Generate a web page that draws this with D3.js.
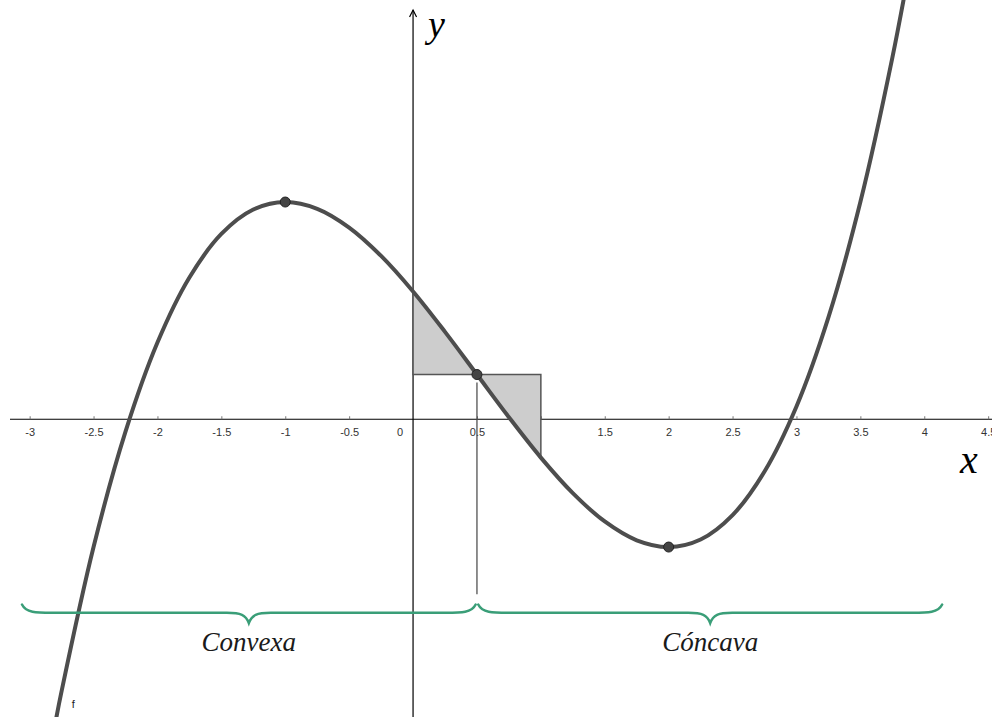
<!DOCTYPE html>
<html>
<head>
<meta charset="utf-8">
<script src="https://cdn.jsdelivr.net/npm/d3@7"></script>
<style>
  body { margin: 0; background: #fff; }
  svg { display: block; }
</style>
</head>
<body>
<svg></svg>
<script>
// curve samples (f with max at -1, min at 2)
var curveX = [-2.8, -2.75, -2.5, -2.25, -2, -1.75, -1.5, -1.25, -1, -0.75, -0.5, -0.25, 0,
              0.25, 0.5, 0.75, 1, 1.25, 1.5, 1.75, 2, 2.25, 2.5, 2.75, 3, 3.25, 3.5, 3.75, 3.9]
var curveY = [-23.82, -21.28, -10, -0.97, 6, 11.09, 14.5, 16.41, 17, 16.47, 15, 12.78, 10,
              6.84, 3.5, 0.16, -3, -5.78, -8, -9.47, -10, -9.41, -7.5, -4.09, 1, 7.97, 17, 28.28, 36.21]

// marked points: maximum, inflection, minimum
var pointX = [-1, 0.5, 2]
var pointY = [17, 3.5, -10]

var xTicks = [-3, -2.5, -2, -1.5, -1, -0.5, 0, 0.5, 1, 1.5, 2, 2.5, 3, 3.5, 4, 4.5]
var xTickLabels = ["-3", "-2.5", "-2", "-1.5", "-1", "-0.5", "0", "0.5", "", "1.5", "2", "2.5", "3", "3.5", "4", "4.5"]

// braces [from, to] in x units, with their words
var braceFrom = [-3.06, 0.51]
var braceTo = [0.49, 4.14]
var braceText = ["Convexa", "Cóncava"]

var width = 992, height = 717

var svg = d3.select("svg")
    .attr("width", width)
    .attr("height", height)

var x = d3.scaleLinear().domain([-3.232, 4.53]).range([0, width])
var y = d3.scaleLinear().domain([-23.3, 32.81]).range([height, 0])

// x axis
svg.append("line")
    .attr("x1", 10).attr("x2", width)
    .attr("y1", y(0)).attr("y2", y(0))
    .attr("stroke", "#000").attr("stroke-width", 1.2)

var xAxis = d3.axisBottom(x)
    .tickValues(xTicks.filter(d => d !== 0))
    .tickSizeInner(-3)
    .tickSizeOuter(0)
    .tickPadding(9)
    .tickFormat(d => xTickLabels[xTicks.indexOf(d)])

var gx = svg.append("g")
    .attr("transform", `translate(0, ${y(0)})`)
    .call(xAxis)
gx.select(".domain").remove()
gx.selectAll(".tick line").attr("stroke", "#777")
gx.selectAll(".tick text")
    .attr("fill", "#333")
    .attr("font-family", "Liberation Sans, Arial, sans-serif")
    .attr("font-size", 11)

// the zero sits left of the y axis
svg.append("text")
    .attr("x", x(0) - 13)
    .attr("y", y(0) + 9)
    .attr("dy", "0.71em")
    .attr("text-anchor", "middle")
    .attr("fill", "#333")
    .attr("font-family", "Liberation Sans, Arial, sans-serif")
    .attr("font-size", 11)
    .text("0")

// y axis with small arrow
svg.append("line")
    .attr("x1", x(0)).attr("x2", x(0))
    .attr("y1", height).attr("y2", 10)
    .attr("stroke", "#000").attr("stroke-width", 1.2)
svg.append("path")
    .attr("d", `M${x(0) - 3.5},${17} L${x(0)},${10} L${x(0) + 3.5},${17}`)
    .attr("fill", "none").attr("stroke", "#000").attr("stroke-width", 1.2)

var pts = curveX.map((d, i) => [d, curveY[i]])
var line = d3.line()
    .x(d => x(d[0]))
    .y(d => y(d[1]))
    .curve(d3.curveCatmullRom.alpha(0.5))

// shaded pieces either side of the inflection point
var infl = [pointX[1], pointY[1]]
var leftPart = pts.filter(d => d[0] >= 0 && d[0] <= infl[0])
var rightPart = pts.filter(d => d[0] >= infl[0] && d[0] <= 1)
var xEnd = rightPart[rightPart.length - 1][0]

svg.append("path")
    .attr("d", line(leftPart) + `L${x(0)},${y(infl[1])}Z`)
    .attr("fill", "#cdcdcd").attr("stroke", "#555").attr("stroke-width", 1.5)
svg.append("path")
    .attr("d", line(rightPart) + `L${x(xEnd)},${y(infl[1])}Z`)
    .attr("fill", "#cdcdcd").attr("stroke", "#555").attr("stroke-width", 1.5)

// the function
svg.append("path")
    .attr("d", line(pts))
    .attr("fill", "none")
    .attr("stroke", "#4d4d4d")
    .attr("stroke-width", 4)
    .attr("stroke-linecap", "round")

svg.append("text")
    .attr("x", x(-2.67)).attr("y", y(-22.6))
    .attr("font-family", "Liberation Sans, Arial, sans-serif")
    .attr("font-size", 11)
    .attr("fill", "#222")
    .text("f")

// guide line from the inflection point down to the braces
svg.append("line")
    .attr("x1", x(infl[0])).attr("x2", x(infl[0]))
    .attr("y1", y(infl[1]) + 8).attr("y2", y(-13.7))
    .attr("stroke", "#444").attr("stroke-width", 1.2)

svg.selectAll("circle.pt")
    .data(pointX)
    .enter()
    .append("circle")
    .attr("class", "pt")
    .attr("cx", d => x(d))
    .attr("cy", (d, i) => y(pointY[i]))
    .attr("r", 5)
    .attr("fill", "#444")
    .attr("stroke", "#222")
    .attr("stroke-width", 1)

// curly braces
var yTip = y(-14.5), yBody = y(-15.15), yCusp = y(-15.95)
function bracePath(a, b) {
    var x1 = x(a), x2 = x(b), m = (x1 + x2) / 2
    return `M${x1},${yTip} C${x1 + 4},${yBody} ${x1 + 14},${yBody} ${x1 + 30},${yBody}` +
        ` L${m - 22},${yBody} C${m - 8},${yBody} ${m - 3},${yBody + 2} ${m},${yCusp}` +
        ` C${m + 3},${yBody + 2} ${m + 8},${yBody} ${m + 22},${yBody}` +
        ` L${x2 - 30},${yBody} C${x2 - 14},${yBody} ${x2 - 4},${yBody} ${x2},${yTip}`
}

svg.selectAll("path.brace")
    .data(braceFrom)
    .enter()
    .append("path")
    .attr("class", "brace")
    .attr("d", (d, i) => bracePath(d, braceTo[i]))
    .attr("fill", "none")
    .attr("stroke", "#3a9e78")
    .attr("stroke-width", 2.5)
    .attr("stroke-linecap", "round")

svg.selectAll("text.word")
    .data(braceText)
    .enter()
    .append("text")
    .attr("class", "word")
    .attr("x", (d, i) => (x(braceFrom[i]) + x(braceTo[i])) / 2)
    .attr("y", y(-18.1))
    .attr("text-anchor", "middle")
    .attr("font-family", "Liberation Serif, Times New Roman, serif")
    .attr("font-style", "italic")
    .attr("font-size", 27)
    .attr("fill", "#1a1a1a")
    .text(d => d)

// axis names
svg.append("text")
    .attr("x", 428).attr("y", 37)
    .attr("font-family", "Liberation Serif, Times New Roman, serif")
    .attr("font-style", "italic")
    .attr("font-size", 38)
    .text("y")
svg.append("text")
    .attr("x", 960).attr("y", 473)
    .attr("font-family", "Liberation Serif, Times New Roman, serif")
    .attr("font-style", "italic")
    .attr("font-size", 40)
    .text("x")
</script>
</body>
</html>
